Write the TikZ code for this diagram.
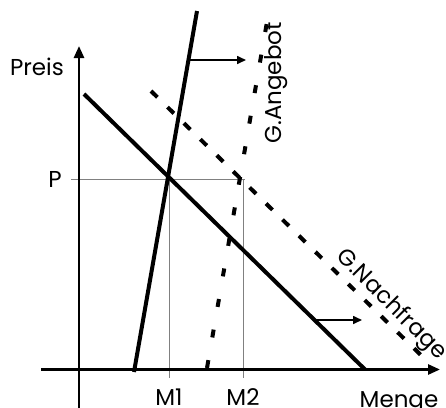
\documentclass[tikz,border=0pt]{standalone}
\usepackage{fontspec}
\setmainfont{Poppins}
\usetikzlibrary{arrows.meta, positioning, calc}

\begin{document}
\begin{tikzpicture}[x=1pt, y=-1pt,
		axis/.style={line width=2.6pt, -{Triangle[length=12pt, width=10pt]}},
		curve/.style={line width=4pt},
		dashcurve/.style={line width=4pt, dash pattern=on 8pt off 23pt},
		dashdemand/.style={line width=4pt, dash pattern=on 9pt off 14pt},
		shiftarrow/.style={line width=1.6pt, -{Triangle[length=9pt, width=8pt]}},
		helper/.style={gray, line width=0.8pt},
		lbl/.style={font=\fontsize{23}{27}\selectfont, inner sep=0pt}]
			\useasboundingbox (0,0) rectangle (446,407);
			
			\coordinate (xa) at (41,369.5);
			\coordinate (xb) at (440,369.5);
			\coordinate (ya) at (79,412);
			\coordinate (yb) at (79,46);
			
			\coordinate (s1a) at (134,372);
			\coordinate (s1b) at (197,11);
			\coordinate (d1a) at (84,94);
			\coordinate (d1b) at (365,369.5);
			\coordinate (s2a) at (207,368);
			\coordinate (s2b) at (268,16);
			\coordinate (d2a) at (151,91);
			\coordinate (d2b) at (430,364);
			
			\coordinate (e1) at (169,179);
			\coordinate (e2) at (243,179);
			\coordinate (pl) at (71,179);
			\coordinate (pr) at (245,179);
			\coordinate (m1) at (169,378);
			\coordinate (m2) at (243,378);
			
			\coordinate (a1) at (189,60);
			\coordinate (a1e) at (246,60);
			\coordinate (a2) at (316,320);
			\coordinate (a2e) at (362,320);
			
			\draw[helper] (pl) -- (pr);
			\draw[helper] (e1) -- (m1);
			\draw[helper] (e2) -- (m2);
			
			\draw[axis] (xa) -- (xb);
			\draw[axis] (ya) -- (yb);
			
			\draw[curve] (s1a) -- (s1b);
			\draw[curve] (d1a) -- (d1b);
			\draw[dashcurve] (s2a) -- (s2b);
			\draw[dashdemand] (d2a) -- (d2b);
			
			\draw[shiftarrow] (a1) -- (a1e);
			\draw[shiftarrow] (a2) -- (a2e);
			
			\node[lbl, anchor=base] (preis) at (37,75) {Preis};
			\node[lbl, anchor=base] (p) at (55,187) {P};
			\node[lbl, anchor=base] (mm1) at (169,405) {M1};
			\node[lbl, anchor=base] (mm2) at (243,405) {M2};
			\node[lbl, anchor=base] (menge) at (399,407) {Menge};
			\node[lbl, rotate=90] (angebot) at (276,83) {G.Angebot};
			\node[lbl, rotate=-45] (nachfrage) at (391,305) {G.Nachfrage};
		\end{tikzpicture}
\end{document}
